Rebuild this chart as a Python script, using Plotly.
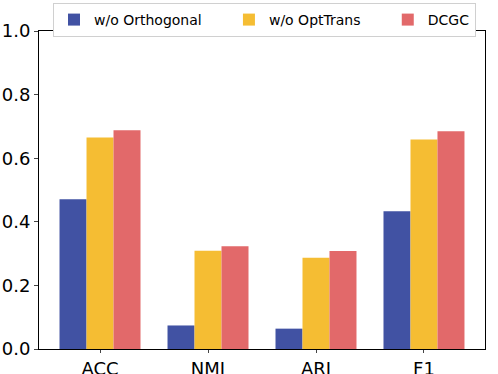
import plotly.graph_objects as go

metrics = ['ACC', 'NMI', 'ARI', 'F1']
wo_orth = [0.471, 0.074, 0.064, 0.433]
wo_opt = [0.665, 0.309, 0.287, 0.659]
dcgc = [0.688, 0.323, 0.308, 0.685]

# trailing nbsp widen the gaps between legend entries like matplotlib
series = [('w/o Orthogonal' + '\u00a0' * 5, wo_orth, '#4152a3'),
          ('w/o OptTrans' + '\u00a0' * 5, wo_opt, '#f5bd33'),
          ('DCGC', dcgc, '#e2696a')]

fig = go.Figure()
for name, vals, col in series:
    fig.add_trace(go.Bar(x=metrics, y=vals, name=name, marker_color=col,
                         marker_line_width=0))

fig.update_layout(
    width=498, height=374,
    margin=dict(l=39, r=13, t=31, b=25, autoexpand=False),
    barmode='group', bargap=0.25, bargroupgap=0,
    plot_bgcolor='white', paper_bgcolor='white',
    font=dict(family='DejaVu Sans', color='black', size=16),
    legend=dict(orientation='h', x=53 / 498, xanchor='left', xref='container',
                y=0.992, yanchor='top', yref='container', font=dict(size=14),
                bordercolor='#d0d0d0', borderwidth=1, bgcolor='white', itemwidth=30),
)
fig.update_xaxes(range=[-0.565, 3.565], showline=True, linecolor='black', linewidth=1,
                 mirror=True, ticks='outside', ticklen=3, tickfont=dict(size=18))
fig.update_yaxes(range=[0, 1.0], dtick=0.2, tickformat='.1f', showline=True,
                 linecolor='black', linewidth=1, mirror=True, ticks='outside',
                 ticklen=4, showgrid=False, zeroline=False, tickfont=dict(size=18))

fig.write_html("out.html", config={'displayModeBar': False},
               post_script="document.body.style.margin='0';")
